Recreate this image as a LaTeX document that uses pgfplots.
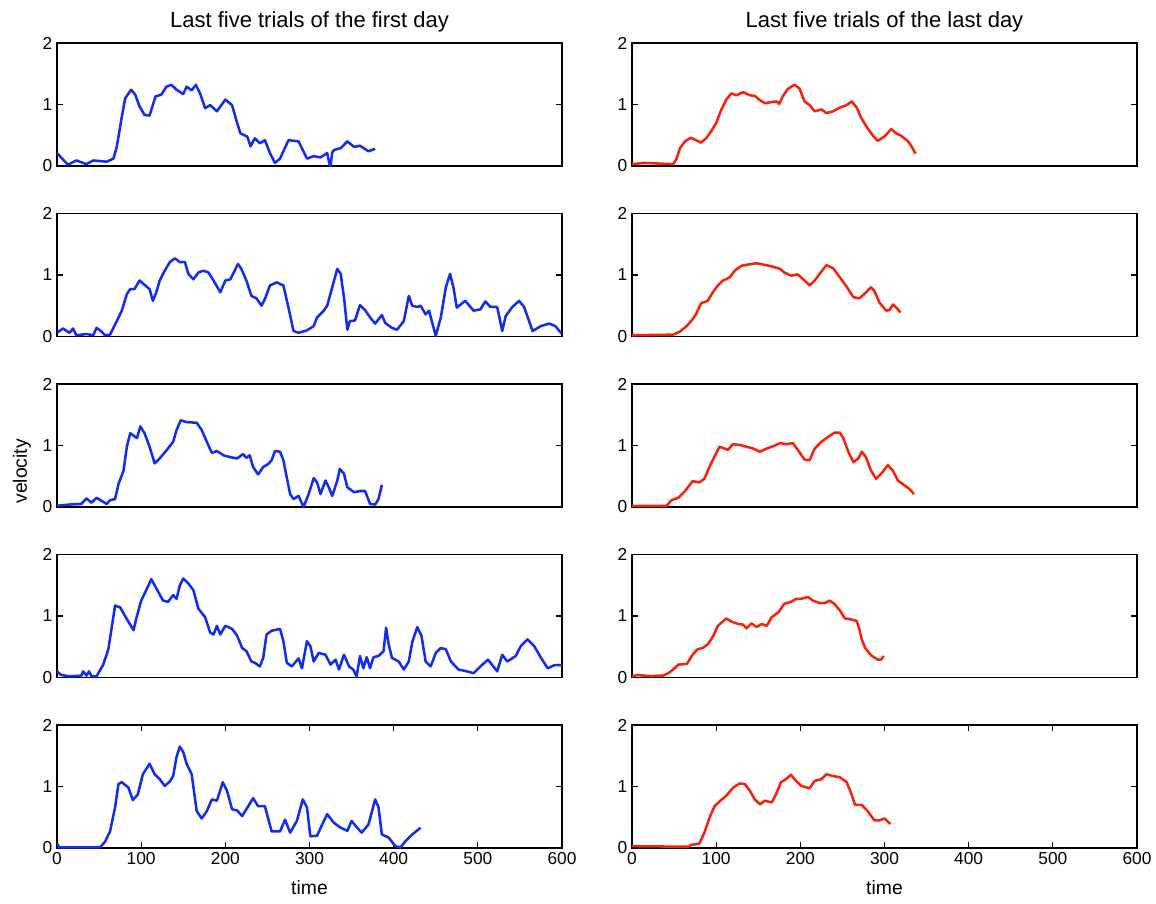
\documentclass[border=0pt]{standalone}
\usepackage{fontspec}
\setmainfont{Liberation Sans}
\usepackage{pgfplots}
\pgfplotsset{compat=1.18}
\definecolor{myblue}{RGB}{20,45,235}
\definecolor{myred}{RGB}{245,35,10}
\pgfplotsset{
  base/.style={scale only axis, width=378.75pt, height=92.25pt,
    xmin=0, xmax=600, ymin=0, ymax=2, ytick={0,1,2}, xtick=\empty,
    tick align=inside, major tick length=4.5pt,
    axis line style={line width=0.9pt},
    every tick/.style={black, line width=0.8pt},
    tick label style={font=\fontsize{13}{15}\selectfont},
    /pgf/number format/assume math mode=true,
    anchor=north west},
  bottom/.style={xtick={0,100,...,600},
    xlabel={time}, xlabel style={font=\fontsize{14.5}{16}\selectfont, at={(axis description cs:0.5,0)}, anchor=center, yshift=-30pt}},
  ttl/.style={every axis title/.style={font=\fontsize{16.5}{18}\selectfont, at={(axis description cs:0.5,1)}, anchor=center, yshift=16pt}},
  bl/.style={color=myblue, line width=1.9pt, mark=none, line join=round},
  rd/.style={color=myred, line width=1.9pt, mark=none, line join=round},
}
\begin{document}
\begin{tikzpicture}
% ---------------- left column (first day) ----------------
\begin{axis}[base, ttl, title={Last five trials of the first day}, at={(0pt,0pt)}]
\addplot[bl] coordinates {(0,0.21)(13,0.02)(23,0.09)(35,0.03)(43,0.09)(59,0.07)(67,0.12)(71,0.31)(77,0.80)(81,1.10)(88,1.24)(93,1.16)(98,0.97)(104,0.83)(110,0.82)(117,1.13)(124,1.16)(130,1.29)(136,1.32)(142,1.24)(150,1.17)(154,1.29)(160,1.23)(165,1.32)(170,1.18)(176,0.94)(182,0.99)(190,0.89)(200,1.08)(208,0.99)(214,0.70)(218,0.53)(226,0.48)(230,0.32)(235,0.45)(241,0.37)(247,0.42)(253,0.21)(259,0.05)(265,0.12)(275,0.42)(287,0.40)(297,0.12)(305,0.16)(313,0.14)(321,0.21)(324,0.02)(325,0.0)(327,0.22)(329,0.26)(337,0.29)(345,0.40)(353,0.31)(360,0.33)(370,0.24)(378,0.28)};
\end{axis}
\begin{axis}[base, at={(0pt,-127.875pt)}]
\addplot[bl] coordinates {(0,0.06)(7,0.13)(15,0.06)(19,0.13)(23,0.02)(35,0.04)(43,0.02)(47,0.14)(53,0.08)(57,0.02)(63,0.03)(71,0.25)(77,0.42)(83,0.69)(87,0.77)(92,0.77)(98,0.91)(104,0.84)(110,0.77)(114,0.58)(118,0.72)(122,0.91)(128,1.07)(134,1.21)(140,1.27)(146,1.21)(152,1.21)(156,1.02)(162,0.93)(168,1.04)(174,1.07)(180,1.04)(186,0.91)(194,0.72)(200,0.91)(206,0.93)(215,1.18)(219,1.10)(225,0.91)(231,0.66)(237,0.62)(243,0.50)(247,0.61)(253,0.83)(261,0.88)(269,0.83)(275,0.47)(281,0.09)(287,0.06)(297,0.10)(305,0.17)(309,0.31)(317,0.42)(321,0.50)(327,0.80)(333,1.10)(337,1.02)(341,0.63)(345,0.11)(348,0.25)(354,0.26)(360,0.51)(366,0.43)(372,0.31)(378,0.21)(386,0.35)(390,0.22)(398,0.14)(404,0.11)(412,0.25)(418,0.66)(422,0.50)(428,0.48)(432,0.50)(438,0.36)(442,0.42)(450,0.01)(456,0.31)(462,0.80)(467,1.02)(471,0.80)(475,0.47)(485,0.58)(495,0.42)(503,0.44)(509,0.57)(515,0.48)(523,0.48)(529,0.09)(533,0.33)(541,0.48)(549,0.58)(555,0.48)(565,0.09)(575,0.17)(585,0.21)(592,0.17)(600,0.04)};
\end{axis}
\begin{axis}[base, at={(0pt,-255.75pt)}, ylabel={velocity},
  ylabel style={font=\fontsize{14.5}{16}\selectfont, at={(axis description cs:-0.0693,0.29)}, anchor=center}]
\addplot[bl] coordinates {(0,0.02)(15,0.04)(29,0.05)(35,0.14)(41,0.07)(47,0.15)(53,0.10)(59,0.05)(63,0.11)(69,0.13)(73,0.37)(79,0.59)(83,0.98)(87,1.20)(95,1.12)(99,1.31)(104,1.20)(110,0.98)(116,0.71)(122,0.79)(130,0.92)(138,1.06)(142,1.25)(147,1.41)(154,1.38)(166,1.37)(172,1.25)(178,1.06)(184,0.88)(190,0.91)(198,0.84)(206,0.81)(214,0.79)(221,0.86)(225,0.80)(229,0.84)(233,0.65)(239,0.53)(245,0.65)(251,0.70)(255,0.76)(259,0.91)(265,0.90)(269,0.76)(273,0.48)(277,0.21)(281,0.13)(287,0.18)(293,0.0)(299,0.21)(305,0.47)(309,0.40)(313,0.21)(319,0.43)(323,0.32)(327,0.18)(333,0.43)(336,0.62)(341,0.54)(345,0.32)(353,0.24)(360,0.26)(366,0.26)(372,0.05)(378,0.04)(382,0.13)(386,0.36)};
\end{axis}
\begin{axis}[base, at={(0pt,-383.625pt)}]
\addplot[bl] coordinates {(0,0.10)(5,0.04)(15,0.02)(29,0.03)(31,0.10)(35,0.03)(38,0.10)(41,0.02)(47,0.02)(55,0.21)(61,0.46)(65,0.81)(69,1.17)(75,1.14)(83,0.95)(91,0.77)(94,0.95)(100,1.25)(106,1.42)(112,1.60)(118,1.45)(126,1.25)(132,1.23)(138,1.34)(142,1.28)(146,1.50)(150,1.61)(156,1.53)(162,1.42)(168,1.12)(176,0.98)(182,0.73)(186,0.70)(190,0.84)(194,0.70)(200,0.84)(208,0.79)(214,0.68)(220,0.48)(225,0.43)(231,0.26)(235,0.24)(241,0.18)(245,0.32)(249,0.70)(255,0.76)(265,0.79)(269,0.59)(273,0.24)(279,0.18)(287,0.31)(291,0.15)(297,0.59)(301,0.51)(305,0.26)(311,0.40)(319,0.37)(325,0.21)(331,0.29)(335,0.13)(341,0.37)(347,0.18)(352,0.13)(356,0.02)(360,0.35)(364,0.15)(368,0.33)(372,0.15)(376,0.33)(382,0.35)(388,0.43)(391,0.81)(394,0.54)(398,0.32)(406,0.26)(412,0.13)(418,0.26)(422,0.57)(428,0.82)(433,0.68)(438,0.26)(444,0.18)(450,0.40)(456,0.48)(462,0.46)(468,0.26)(477,0.13)(487,0.10)(495,0.07)(503,0.18)(512,0.29)(523,0.10)(529,0.37)(535,0.26)(545,0.35)(551,0.51)(559,0.62)(567,0.51)(575,0.32)(583,0.15)(591,0.20)(600,0.20)};
\end{axis}
\begin{axis}[base, bottom, at={(0pt,-511.5pt)}]
\addplot[bl] coordinates {(0,0.07)(3,0.01)(51,0.01)(57,0.10)(63,0.27)(69,0.66)(73,1.04)(77,1.07)(85,0.98)(90,0.78)(96,0.87)(102,1.20)(110,1.37)(116,1.20)(122,1.12)(128,1.01)(134,1.08)(138,1.17)(142,1.48)(146,1.65)(150,1.56)(154,1.37)(160,1.20)(166,0.60)(172,0.48)(178,0.60)(184,0.79)(190,0.77)(197,1.07)(202,0.93)(208,0.63)(214,0.61)(220,0.52)(225,0.63)(233,0.81)(239,0.68)(247,0.68)(255,0.27)(265,0.27)(271,0.46)(277,0.25)(285,0.44)(292,0.79)(297,0.66)(301,0.19)(309,0.20)(315,0.38)(321,0.55)(329,0.41)(337,0.33)(345,0.28)(350,0.44)(356,0.34)(362,0.25)(370,0.38)(378,0.79)(382,0.66)(386,0.22)(394,0.17)(402,0.03)(408,0.01)(414,0.11)(422,0.22)(432,0.33)};
\end{axis}
% ---------------- right column (last day) ----------------
\begin{axis}[base, ttl, title={Last five trials of the last day}, at={(431.25pt,0pt)}]
\addplot[rd] coordinates {(0,0.03)(15,0.05)(49,0.03)(53,0.12)(57,0.29)(63,0.40)(70,0.46)(76,0.42)(82,0.38)(88,0.45)(94,0.56)(100,0.70)(106,0.91)(112,1.08)(118,1.18)(124,1.15)(132,1.20)(140,1.15)(146,1.14)(152,1.07)(158,1.02)(166,1.04)(172,1.05)(175,1.01)(179,1.13)(185,1.25)(193,1.32)(199,1.26)(205,1.05)(211,0.99)(217,0.89)(225,0.92)(231,0.86)(239,0.89)(247,0.95)(255,0.99)(261,1.05)(267,0.95)(272,0.79)(280,0.61)(287,0.48)(292,0.41)(300,0.48)(308,0.60)(314,0.53)(320,0.49)(328,0.40)(332,0.32)(337,0.20)};
\end{axis}
\begin{axis}[base, at={(431.25pt,-127.875pt)}]
\addplot[rd] coordinates {(0,0.02)(49,0.03)(57,0.08)(65,0.17)(72,0.28)(76,0.36)(82,0.54)(90,0.58)(96,0.72)(102,0.83)(108,0.91)(116,0.96)(122,1.07)(130,1.15)(138,1.17)(148,1.19)(156,1.17)(166,1.14)(176,1.10)(181,1.04)(189,0.99)(197,1.01)(205,0.91)(211,0.83)(217,0.91)(223,1.02)(231,1.16)(239,1.11)(247,0.96)(255,0.81)(263,0.64)(270,0.62)(276,0.69)(284,0.80)(288,0.74)(294,0.55)(302,0.42)(306,0.43)(310,0.52)(314,0.47)(319,0.39)};
\end{axis}
\begin{axis}[base, at={(431.25pt,-255.75pt)}]
\addplot[rd] coordinates {(0,0.02)(41,0.02)(47,0.11)(55,0.15)(63,0.26)(72,0.42)(80,0.40)(86,0.46)(92,0.65)(98,0.82)(104,0.98)(110,0.95)(114,0.93)(120,1.02)(128,1.01)(136,0.98)(144,0.95)(152,0.90)(160,0.95)(168,0.99)(176,1.04)(183,1.02)(191,1.04)(197,0.93)(205,0.77)(211,0.76)(217,0.95)(225,1.06)(233,1.14)(241,1.21)(247,1.21)(251,1.12)(257,0.90)(263,0.73)(269,0.79)(273,0.90)(278,0.81)(284,0.59)(290,0.46)(296,0.54)(304,0.68)(310,0.59)(316,0.43)(324,0.35)(330,0.29)(335,0.21)};
\end{axis}
\begin{axis}[base, at={(431.25pt,-383.625pt)}]
\addplot[rd] coordinates {(0,0.02)(7,0.04)(15,0.03)(23,0.02)(31,0.03)(37,0.03)(43,0.07)(49,0.13)(55,0.21)(65,0.22)(72,0.37)(78,0.46)(84,0.48)(90,0.54)(96,0.66)(102,0.84)(112,0.96)(118,0.91)(126,0.87)(132,0.86)(136,0.80)(142,0.88)(148,0.82)(154,0.87)(160,0.84)(166,0.98)(174,1.06)(181,1.20)(189,1.23)(195,1.28)(201,1.28)(209,1.31)(215,1.25)(223,1.21)(229,1.21)(235,1.25)(241,1.19)(247,1.09)(253,0.96)(259,0.95)(267,0.92)(270,0.79)(273,0.62)(277,0.48)(284,0.36)(292,0.29)(296,0.29)(299,0.35)};
\end{axis}
\begin{axis}[base, bottom, at={(431.25pt,-511.5pt)}]
\addplot[rd] coordinates {(0,0.03)(67,0.02)(70,0.05)(80,0.07)(86,0.25)(92,0.49)(98,0.68)(106,0.78)(112,0.85)(120,0.98)(128,1.05)(134,1.04)(140,0.93)(146,0.79)(152,0.71)(158,0.77)(166,0.74)(171,0.87)(177,1.07)(183,1.12)(189,1.19)(195,1.09)(201,1.01)(211,0.97)(217,1.09)(225,1.12)(231,1.20)(239,1.17)(247,1.15)(255,1.07)(261,0.87)(265,0.70)(273,0.70)(280,0.60)(288,0.45)(294,0.45)(300,0.48)(307,0.39)};
\end{axis}
\pgfresetboundingbox
\path (-42.75pt,32.25pt) rectangle (824.25pt,-645pt);
\end{tikzpicture}
\end{document}
